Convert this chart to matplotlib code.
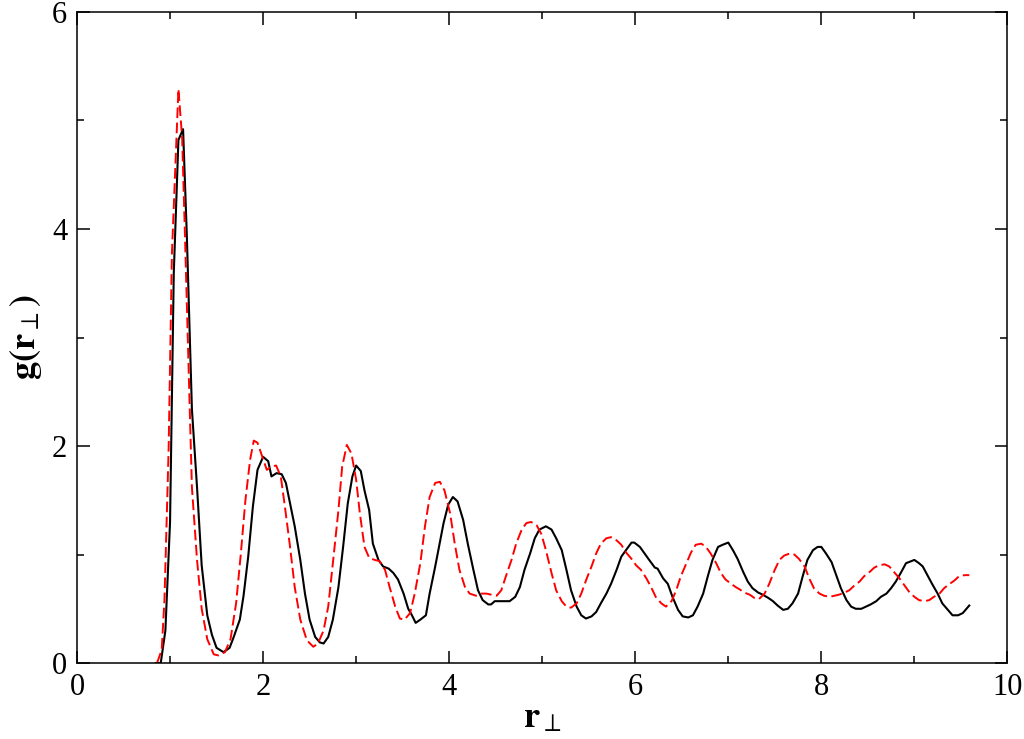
import matplotlib
matplotlib.use('Agg')
import matplotlib.pyplot as plt
from matplotlib.ticker import MultipleLocator

# g(r_perp), solid black curve
r_black = [0.85, 0.90, 0.95, 1.00, 1.04, 1.09, 1.14, 1.18, 1.235, 1.29, 1.34, 1.40, 1.45, 1.50,
           1.575, 1.64, 1.68, 1.75, 1.79, 1.84, 1.89, 1.94, 2.00, 2.055, 2.09, 2.145, 2.20, 2.245,
           2.29, 2.34, 2.40, 2.45, 2.50, 2.56, 2.61, 2.65, 2.70, 2.75, 2.81, 2.86, 2.91, 2.96,
           3.00, 3.05, 3.09, 3.14, 3.18, 3.24, 3.29, 3.35, 3.40, 3.45, 3.51, 3.56, 3.60, 3.64,
           3.69, 3.75, 3.79, 3.85, 3.89, 3.94, 3.99, 4.04, 4.09, 4.15, 4.20, 4.26, 4.31, 4.36,
           4.42, 4.45, 4.49, 4.54, 4.60, 4.65, 4.71, 4.76, 4.81, 4.87, 4.92, 4.97, 5.04, 5.10,
           5.15, 5.21, 5.26, 5.31, 5.37, 5.42, 5.47, 5.53, 5.58, 5.63, 5.69, 5.74, 5.80, 5.85,
           5.90, 5.96, 5.99, 6.05, 6.10, 6.15, 6.21, 6.24, 6.30, 6.35, 6.40, 6.46, 6.51, 6.57,
           6.62, 6.67, 6.73, 6.78, 6.83, 6.89, 6.94, 7.00, 7.05, 7.10, 7.16, 7.21, 7.26, 7.32,
           7.37, 7.43, 7.48, 7.53, 7.59, 7.64, 7.69, 7.75, 7.80, 7.85, 7.91, 7.96, 8.00, 8.05,
           8.11, 8.16, 8.21, 8.27, 8.32, 8.37, 8.43, 8.48, 8.53, 8.59, 8.64, 8.70, 8.75, 8.80,
           8.86, 8.91, 8.97, 9.00, 9.05, 9.09, 9.14, 9.19, 9.25, 9.30, 9.36, 9.41, 9.47, 9.52, 9.59]
g_black = [0.0, 0.0, 0.30, 1.30, 3.59, 4.82, 4.92, 3.95, 2.34, 1.62, 0.90, 0.44, 0.26, 0.14,
           0.10, 0.14, 0.23, 0.40, 0.62, 0.98, 1.44, 1.78, 1.90, 1.86, 1.72, 1.75, 1.74, 1.66,
           1.47, 1.26, 0.95, 0.64, 0.40, 0.24, 0.19, 0.18, 0.24, 0.40, 0.70, 1.07, 1.47, 1.72,
           1.82, 1.77, 1.59, 1.41, 1.10, 0.95, 0.89, 0.87, 0.83, 0.77, 0.64, 0.50, 0.44, 0.37,
           0.40, 0.44, 0.64, 0.89, 1.07, 1.29, 1.46, 1.53, 1.49, 1.32, 1.10, 0.86, 0.67, 0.58,
           0.54, 0.54, 0.57, 0.57, 0.57, 0.57, 0.61, 0.70, 0.86, 1.01, 1.15, 1.23, 1.26, 1.23,
           1.15, 1.04, 0.86, 0.67, 0.52, 0.44, 0.41, 0.43, 0.47, 0.55, 0.64, 0.73, 0.86, 0.98,
           1.04, 1.11, 1.11, 1.07, 1.01, 0.95, 0.88, 0.87, 0.78, 0.73, 0.61, 0.49, 0.43, 0.42,
           0.44, 0.52, 0.64, 0.80, 0.95, 1.07, 1.09, 1.11, 1.04, 0.96, 0.84, 0.75, 0.69, 0.65,
           0.63, 0.60, 0.57, 0.53, 0.49, 0.50, 0.55, 0.64, 0.80, 0.95, 1.04, 1.07, 1.07, 1.01,
           0.93, 0.81, 0.69, 0.58, 0.52, 0.50, 0.50, 0.52, 0.54, 0.57, 0.61, 0.64, 0.69, 0.75,
           0.84, 0.92, 0.94, 0.95, 0.92, 0.89, 0.81, 0.73, 0.64, 0.55, 0.49, 0.44, 0.44, 0.46, 0.53]

# dashed red curve
r_red = [0.86, 0.91, 0.94, 0.985, 1.02, 1.056, 1.09, 1.13, 1.16, 1.20, 1.235, 1.29, 1.34, 1.40,
         1.47, 1.52, 1.59, 1.65, 1.71, 1.76, 1.81, 1.86, 1.90, 1.94, 1.98, 2.04, 2.09, 2.14,
         2.19, 2.23, 2.29, 2.34, 2.40, 2.47, 2.54, 2.59, 2.65, 2.70, 2.75, 2.81, 2.85, 2.90,
         2.95, 3.00, 3.04, 3.09, 3.14, 3.20, 3.25, 3.31, 3.36, 3.42, 3.47, 3.52, 3.58, 3.63,
         3.69, 3.74, 3.79, 3.85, 3.90, 3.95, 4.01, 4.06, 4.11, 4.17, 4.22, 4.29, 4.35, 4.40,
         4.45, 4.51, 4.56, 4.61, 4.67, 4.72, 4.78, 4.83, 4.88, 4.94, 4.99, 5.04, 5.10, 5.15,
         5.21, 5.26, 5.31, 5.37, 5.42, 5.47, 5.53, 5.58, 5.63, 5.69, 5.74, 5.80, 5.85, 5.90,
         5.96, 6.01, 6.06, 6.12, 6.17, 6.22, 6.28, 6.33, 6.39, 6.44, 6.49, 6.55, 6.60, 6.65,
         6.71, 6.76, 6.81, 6.87, 6.92, 6.97, 7.03, 7.08, 7.12, 7.17, 7.23, 7.28, 7.33, 7.39,
         7.44, 7.50, 7.55, 7.60, 7.66, 7.71, 7.76, 7.82, 7.87, 7.92, 7.98, 8.03, 8.09, 8.14,
         8.19, 8.25, 8.30, 8.35, 8.41, 8.46, 8.52, 8.57, 8.62, 8.68, 8.73, 8.78, 8.84, 8.89,
         8.94, 9.00, 9.05, 9.11, 9.16, 9.21, 9.27, 9.32, 9.38, 9.43, 9.48, 9.54, 9.59]
g_red = [0.0, 0.12, 0.58, 1.98, 3.77, 4.55, 5.29, 4.84, 3.95, 2.69, 1.62, 0.95, 0.50, 0.22,
         0.08, 0.07, 0.10, 0.22, 0.55, 1.00, 1.50, 1.87, 2.05, 2.03, 1.93, 1.78, 1.81, 1.82,
         1.72, 1.47, 1.07, 0.70, 0.40, 0.21, 0.15, 0.18, 0.30, 0.52, 0.92, 1.41, 1.81, 2.01,
         1.93, 1.69, 1.38, 1.07, 0.97, 0.95, 0.94, 0.86, 0.70, 0.52, 0.41, 0.40, 0.46, 0.64,
         0.92, 1.26, 1.53, 1.66, 1.67, 1.59, 1.38, 1.10, 0.86, 0.70, 0.64, 0.62, 0.64, 0.64,
         0.63, 0.62, 0.67, 0.80, 0.95, 1.10, 1.23, 1.29, 1.30, 1.27, 1.19, 1.04, 0.83, 0.67,
         0.57, 0.52, 0.51, 0.55, 0.64, 0.76, 0.89, 1.01, 1.10, 1.15, 1.16, 1.13, 1.09, 1.02,
         0.96, 0.90, 0.86, 0.78, 0.70, 0.61, 0.55, 0.52, 0.57, 0.67, 0.80, 0.92, 1.02, 1.09,
         1.10, 1.07, 1.01, 0.92, 0.83, 0.77, 0.73, 0.70, 0.68, 0.65, 0.63, 0.60, 0.59, 0.64,
         0.73, 0.86, 0.95, 0.99, 1.01, 1.00, 0.96, 0.89, 0.78, 0.69, 0.64, 0.62, 0.61, 0.62,
         0.63, 0.65, 0.67, 0.71, 0.75, 0.80, 0.84, 0.88, 0.90, 0.91, 0.89, 0.84, 0.78, 0.72,
         0.66, 0.61, 0.58, 0.57, 0.58, 0.61, 0.64, 0.69, 0.73, 0.76, 0.80, 0.81, 0.81]

plt.rcParams['font.family'] = 'Liberation Serif'
plt.rcParams['mathtext.fontset'] = 'stix'

fig = plt.figure(figsize=(10.24, 7.39), dpi=100)
ax = fig.add_axes([0.0752, 0.1028, 0.9086, 0.881])

ax.plot(r_black, g_black, color='black', lw=1.5)
ax.plot(r_red, g_red, color='red', lw=1.4, dashes=(5.5, 2.3))

ax.set_xlim(0, 10)
ax.set_ylim(0, 6)
ax.xaxis.set_major_locator(MultipleLocator(2))
ax.xaxis.set_minor_locator(MultipleLocator(1))
ax.yaxis.set_major_locator(MultipleLocator(2))
ax.yaxis.set_minor_locator(MultipleLocator(1))
ax.tick_params(which='both', direction='in', top=True, right=True, labelsize=22, width=1.1)
ax.tick_params(which='major', length=9, pad=7)
ax.tick_params(which='minor', length=5)
for s in ax.spines.values():
    s.set_linewidth(1.1)

ax.set_xlabel(r'$\mathbf{r}_{\perp}$', fontsize=26, labelpad=0)
ax.set_ylabel(r'$\mathbf{g(r}_{\perp}\mathbf{)}$', fontsize=26, labelpad=6)

fig.savefig('out.png', dpi=100)
